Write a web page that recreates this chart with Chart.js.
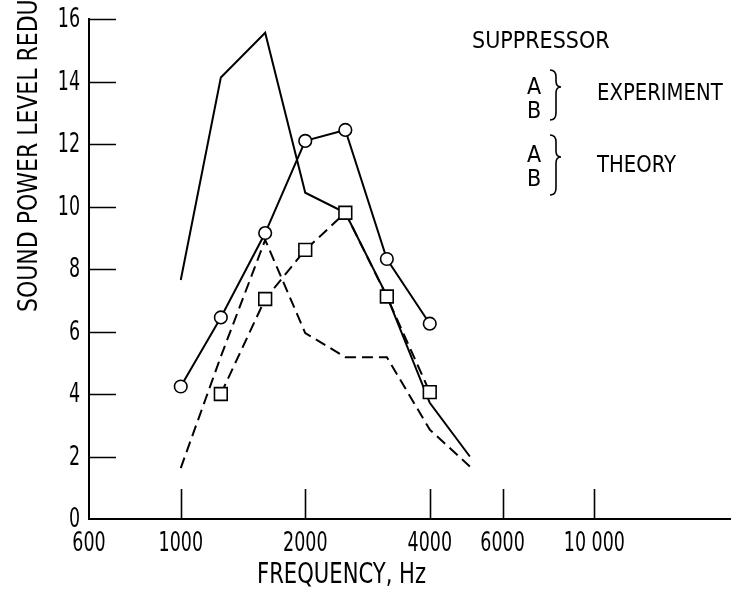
<!DOCTYPE html>
<html>
<head>
<meta charset="utf-8">
<script src="https://cdn.jsdelivr.net/npm/chart.js@4.4.0/dist/chart.umd.min.js"></script>
<style>
html, body { margin: 0; padding: 0; background: #fff; }
</style>
</head>
<body>
<canvas id="soundChart" width="731" height="591"></canvas>
<script>
// measured values, 1/3-octave band frequencies (Hz)
var freqExpA = [1000, 1250, 1600, 2000, 2500, 3150, 4000];
var levelExpA = [4.24, 6.45, 9.15, 12.1, 12.45, 8.32, 6.25];

var freqExpB = [1250, 1600, 2000, 2500, 3150, 4000];
var levelExpB = [4.0, 7.04, 8.61, 9.8, 7.12, 4.06];

// theory curves
var freqTheory = [1000, 1250, 1600, 2000, 2500, 3150, 4000, 5000];
var levelTheoryA = [7.65, 14.13, 15.56, 10.44, 9.8, 7.14, 3.72, 2.0];
var levelTheoryB = [1.63, 5.2, 8.93, 5.95, 5.18, 5.18, 2.86, 1.68];

// axis ticks
var xTickValues = [600, 1000, 2000, 4000, 6000, 10000];
var xTickLabels = ['600', '1000', '2000', '4000', '6000', '10 000'];
var yTickValues = [0, 2, 4, 6, 8, 10, 12, 14, 16];

var condFont = "'DejaVu Sans Condensed', 'DejaVu Sans', sans-serif";

function pairs(xs, ys) {
    return xs.map(function(x, i) { return { x: x, y: ys[i] }; });
}

// draw text squeezed horizontally (lettering in the original is narrow)
function narrowText(ctx, text, x, y, size, squeeze, align) {
    ctx.save();
    ctx.font = size + 'px ' + condFont;
    var w = ctx.measureText(text).width * squeeze;
    var left = x;
    if (align === 'right') left = x - w;
    if (align === 'center') left = x - w / 2;
    ctx.translate(left, y);
    ctx.scale(squeeze, 1);
    ctx.textAlign = 'left';
    ctx.textBaseline = 'alphabetic';
    ctx.fillText(text, 0, 0);
    ctx.restore();
}

// tick marks pointing into the plot, plus tick labels
var axisMarks = {
    id: 'axisMarks',
    afterDraw: function(chart) {
        var ctx = chart.ctx, xs = chart.scales.x, ys = chart.scales.y, a = chart.chartArea;
        ctx.save();
        ctx.strokeStyle = '#000';
        ctx.fillStyle = '#000';
        ctx.lineWidth = 1.6;
        ctx.beginPath();
        xTickValues.forEach(function(v) {
            if (v <= xs.min) return;
            var px = Math.round(xs.getPixelForValue(v)) + 0.5;
            ctx.moveTo(px, a.bottom);
            ctx.lineTo(px, a.bottom - 30);
        });
        yTickValues.forEach(function(v) {
            if (v <= ys.min) return;
            var py = Math.round(ys.getPixelForValue(v)) + 0.5;
            ctx.moveTo(a.left, py);
            ctx.lineTo(a.left + 27, py);
        });
        ctx.stroke();

        xTickValues.forEach(function(v, i) {
            narrowText(ctx, xTickLabels[i], xs.getPixelForValue(v), a.bottom + 32, 27, 0.72, 'center');
        });
        yTickValues.forEach(function(v) {
            narrowText(ctx, String(v), a.left - 9, ys.getPixelForValue(v) + 8, 27, 0.72, 'right');
        });
        ctx.restore();
    }
};

function drawBrace(ctx, x, top, bottom, tip) {
    var w = 11, m = x + 6;
    ctx.beginPath();
    ctx.moveTo(x, top);
    ctx.quadraticCurveTo(m, top, m, top + 7);
    ctx.lineTo(m, tip - 6);
    ctx.quadraticCurveTo(m, tip, x + w, tip);
    ctx.quadraticCurveTo(m, tip, m, tip + 6);
    ctx.lineTo(m, bottom - 7);
    ctx.quadraticCurveTo(m, bottom, x, bottom);
    ctx.stroke();
}

// text legend with braces, and the axis titles
var labelsPlugin = {
    id: 'labelsPlugin',
    afterDraw: function(chart) {
        var ctx = chart.ctx;
        ctx.save();
        ctx.fillStyle = '#000';
        ctx.strokeStyle = '#000';
        ctx.lineWidth = 1.6;

        narrowText(ctx, 'FREQUENCY, Hz', 257, 583, 29, 0.81, 'left');

        ctx.save();
        ctx.translate(37, 312);
        ctx.rotate(-Math.PI / 2);
        narrowText(ctx, 'SOUND POWER LEVEL REDU', 0, 0, 26, 0.94, 'left');
        ctx.restore();

        narrowText(ctx, 'SUPPRESSOR', 472, 48, 23, 1, 'left');
        narrowText(ctx, 'A', 534, 94, 23, 1, 'center');
        narrowText(ctx, 'B', 534, 118, 23, 1, 'center');
        narrowText(ctx, 'EXPERIMENT', 597, 100, 23, 0.95, 'left');
        narrowText(ctx, 'A', 534, 162, 23, 1, 'center');
        narrowText(ctx, 'B', 534, 186, 23, 1, 'center');
        narrowText(ctx, 'THEORY', 597, 172, 23, 0.95, 'left');

        drawBrace(ctx, 550, 70, 120, 87);
        drawBrace(ctx, 550, 135, 195, 157);
        ctx.restore();
    }
};

var ctx = document.getElementById('soundChart');

var chart = new Chart(ctx, {
    type: 'line',
    data: {
        datasets: [
            {
                label: 'Experiment A',
                data: pairs(freqExpA, levelExpA),
                borderColor: '#000',
                borderWidth: 2,
                pointStyle: 'circle',
                pointRadius: 6.3,
                pointBackgroundColor: '#fff',
                pointBorderColor: '#000',
                pointBorderWidth: 1.6
            },
            {
                label: 'Experiment B',
                data: pairs(freqExpB, levelExpB),
                borderColor: '#000',
                borderWidth: 2,
                borderDash: [11, 6],
                pointStyle: 'rect',
                pointRadius: 9,
                pointBackgroundColor: '#fff',
                pointBorderColor: '#000',
                pointBorderWidth: 1.6
            },
            {
                label: 'Theory A',
                data: pairs(freqTheory, levelTheoryA),
                borderColor: '#000',
                borderWidth: 2,
                pointRadius: 0
            },
            {
                label: 'Theory B',
                data: pairs(freqTheory, levelTheoryB),
                borderColor: '#000',
                borderWidth: 2,
                borderDash: [11, 6],
                pointRadius: 0
            }
        ]
    },
    options: {
        responsive: false,
        animation: false,
        layout: { autoPadding: false, padding: { left: 0, right: 0, top: 19, bottom: 0 } },
        plugins: {
            legend: { display: false },
            tooltip: { enabled: false }
        },
        scales: {
            x: {
                type: 'logarithmic',
                min: 600,
                max: 21400,
                grid: { display: false },
                border: { display: true, color: '#000', width: 2 },
                ticks: { display: false },
                afterBuildTicks: function(scale) {
                    scale.ticks = xTickValues.map(function(v) { return { value: v }; });
                },
                afterFit: function(scale) {
                    scale.height = 72;
                    scale.paddingLeft = 0;
                    scale.paddingRight = 0;
                }
            },
            y: {
                min: 0,
                max: 16,
                grid: { display: false },
                border: { display: true, color: '#000', width: 2 },
                ticks: { display: false },
                afterBuildTicks: function(scale) {
                    scale.ticks = yTickValues.map(function(v) { return { value: v }; });
                },
                afterFit: function(scale) {
                    scale.width = 89;
                    scale.paddingTop = 0;
                    scale.paddingBottom = 0;
                }
            }
        }
    },
    plugins: [axisMarks, labelsPlugin]
});
</script>
</body>
</html>
